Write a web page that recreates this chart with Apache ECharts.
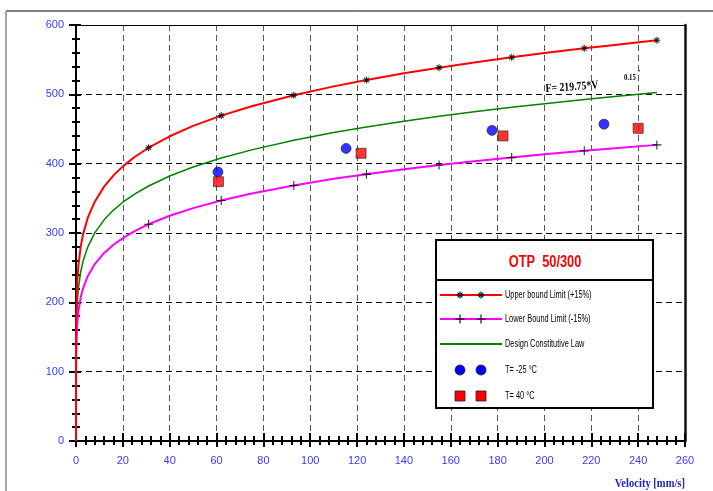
<!DOCTYPE html>
<html>
<head>
<meta charset="utf-8">
<script src="https://cdn.jsdelivr.net/npm/echarts@6/dist/echarts.min.js"></script>
<style>
html,body{margin:0;padding:0;background:#fff;}
#chart{width:713px;height:491px;}
</style>
</head>
<body>
<div id="chart"></div>
<script>
// ---- data ----
var velocity = [0, 0.0001, 0.001, 0.01, 0.1, 0.5, 1, 2, 3, 5, 8, 12, 16, 20, 25, 31, 40, 50, 62, 75, 93, 110, 124, 140, 155, 170, 186, 200, 217, 230, 248];
var designLaw = [0, 55.2, 78.0, 110.1, 155.6, 198.0, 219.8, 243.8, 259.1, 279.7, 300.2, 319.0, 333.1, 344.4, 356.2, 367.8, 382.2, 395.2, 408.1, 419.9, 433.7, 444.8, 452.8, 461.2, 468.3, 474.8, 481.2, 486.5, 492.5, 496.8, 502.5];
var upperLimit = [0, 63.5, 89.7, 126.6, 179.0, 227.7, 252.7, 280.4, 298.0, 321.7, 345.2, 366.9, 383.1, 396.1, 409.6, 423.0, 439.5, 454.5, 469.3, 482.9, 498.8, 511.5, 520.7, 530.4, 538.5, 546.0, 553.4, 559.5, 566.4, 571.3, 577.9];
var lowerLimit = [0, 46.9, 66.3, 93.6, 132.3, 168.3, 186.8, 207.2, 220.2, 237.7, 255.2, 271.2, 283.1, 292.7, 302.8, 312.6, 324.9, 335.9, 346.9, 356.9, 368.6, 378.1, 384.9, 392.0, 398.1, 403.6, 409.0, 413.5, 418.6, 422.3, 427.1];
var markerVelocity = [31, 62, 93, 124, 155, 186, 217, 248];

var coldVelocity = [60.6, 115.3, 177.6, 225.4];
var coldForce = [388, 422, 448, 457];
var hotVelocity = [60.8, 121.7, 182.3, 240.0];
var hotForce = [374, 415, 440, 451];

var xTicks = [0, 20, 40, 60, 80, 100, 120, 140, 160, 180, 200, 220, 240, 260];
var yTicks = [0, 100, 200, 300, 400, 500, 600];

var legendTitle = 'OTP  50/300';
var legendNames = ['Upper bound Limit (+15%)', 'Lower Bound Limit (-15%)', 'Design Constitutive Law', 'T= -25 \u00B0C', 'T= 40 \u00B0C'];
var formulaText = 'F= 219.75*V';
var formulaExp = '0.15';
var xAxisName = 'Velocity [mm/s]';

// ---- build series data ----
function pairs(xs, ys) { return xs.map(function (x, i) { return [x, ys[i]]; }); }
function marks(curve) {
  return markerVelocity.map(function (v) { return [v, curve[velocity.indexOf(v)]]; });
}

var asterisk = 'path://M0,5L10,5M5,0L5,10M1.6,1.6L8.4,8.4M8.4,1.6L1.6,8.4';
var cross = 'path://M0,5L10,5M5,0L5,10';

var labelColor = '#3a3aff';
var sans = '"Liberation Sans", Arial, sans-serif';
var serif = '"Liberation Serif", "Times New Roman", serif';

var chart = echarts.init(document.getElementById('chart'), null, {renderer: 'canvas'});

var xMin = xTicks[0], xMax = xTicks[xTicks.length - 1], xStep = xTicks[1] - xTicks[0];
var yMin = yTicks[0], yMax = yTicks[yTicks.length - 1], yStep = yTicks[1] - yTicks[0];

var option = {
  animation: false,
  backgroundColor: '#fff',
  grid: {left: 76, top: 25, right: 28, bottom: 50, containLabel: false},
  xAxis: [
    {
      type: 'value', min: xMin, max: xMax, interval: xStep, position: 'bottom',
      axisLine: {show: true, onZero: false, lineStyle: {color: '#000', width: 2}},
      axisTick: {show: true, inside: false, length: 6, lineStyle: {color: '#000', width: 2}},
      minorTick: {show: true, splitNumber: 5, length: 4, lineStyle: {color: '#000', width: 2}},
      axisLabel: {color: labelColor, fontFamily: sans, fontSize: 11, margin: 14},
      splitLine: {show: true, lineStyle: {color: '#555', type: [6, 4], width: 1}}
    },
    {
      type: 'value', min: xMin, max: xMax, interval: xStep, position: 'bottom',
      axisLine: {show: false, onZero: false},
      axisTick: {show: true, inside: true, length: 8, lineStyle: {color: '#000', width: 2}},
      minorTick: {show: true, splitNumber: 5, length: 5, lineStyle: {color: '#000', width: 2}},
      axisLabel: {show: false},
      splitLine: {show: false}
    },
    {
      type: 'value', min: xMin, max: xMax, position: 'top',
      axisLine: {show: true, onZero: false, lineStyle: {color: '#000', width: 1}},
      axisTick: {show: false}, axisLabel: {show: false}, splitLine: {show: false}
    }
  ],
  yAxis: [
    {
      type: 'value', min: yMin, max: yMax, interval: yStep, position: 'left',
      axisLine: {show: true, onZero: false, lineStyle: {color: '#000', width: 2}},
      axisTick: {show: true, inside: false, length: 7, lineStyle: {color: '#000', width: 2}},
      minorTick: {show: true, splitNumber: 5, length: 4, lineStyle: {color: '#000', width: 2}},
      axisLabel: {color: labelColor, fontFamily: sans, fontSize: 11, margin: 12},
      splitLine: {show: true, lineStyle: {color: '#000', type: [6, 4], width: 1}}
    },
    {
      type: 'value', min: yMin, max: yMax, interval: yStep, position: 'left',
      axisLine: {show: false, onZero: false},
      axisTick: {show: true, inside: true, length: 5, lineStyle: {color: '#000', width: 2}},
      minorTick: {show: true, splitNumber: 5, length: 4, lineStyle: {color: '#000', width: 2}},
      axisLabel: {show: false},
      splitLine: {show: false}
    },
    {
      type: 'value', min: yMin, max: yMax, position: 'right',
      axisLine: {show: true, onZero: false, lineStyle: {color: '#111', width: 2.5}},
      axisTick: {show: false}, axisLabel: {show: false}, splitLine: {show: false}
    }
  ],
  series: [
    {
      name: legendNames[2], type: 'line', data: pairs(velocity, designLaw),
      showSymbol: false, lineStyle: {color: '#008000', width: 1.5}, z: 3
    },
    {
      name: legendNames[1], type: 'line', data: pairs(velocity, lowerLimit),
      showSymbol: false, lineStyle: {color: '#ff00ff', width: 2}, z: 3
    },
    {
      name: legendNames[0], type: 'line', data: pairs(velocity, upperLimit),
      showSymbol: false, lineStyle: {color: '#ff0000', width: 2}, z: 4
    },
    {
      name: legendNames[0] + ' markers', type: 'scatter', data: marks(upperLimit),
      symbol: asterisk, symbolSize: 7,
      itemStyle: {color: 'rgba(0,0,0,0)', borderColor: '#000', borderWidth: 1.1}, z: 5
    },
    {
      name: legendNames[1] + ' markers', type: 'scatter', data: marks(lowerLimit),
      symbol: cross, symbolSize: 9,
      itemStyle: {color: 'rgba(0,0,0,0)', borderColor: '#000', borderWidth: 1.1}, z: 5
    },
    {
      name: legendNames[3], type: 'scatter', data: pairs(coldVelocity, coldForce),
      symbol: 'circle', symbolSize: 10,
      itemStyle: {color: '#0000ff', borderColor: '#222', borderWidth: 0.8}, z: 6
    },
    {
      name: legendNames[4], type: 'scatter', data: pairs(hotVelocity, hotForce),
      symbol: 'rect', symbolSize: 10,
      itemStyle: {color: '#ff0000', borderColor: '#222', borderWidth: 0.8}, z: 6
    }
  ],
  graphic: []
};

// outer frame
var g = option.graphic;
g.push({type: 'line', shape: {x1: 6, y1: 11, x2: 713, y2: 11}, style: {stroke: '#000', lineWidth: 1}, z: 1});
g.push({type: 'line', shape: {x1: 6, y1: 11, x2: 6, y2: 491}, style: {stroke: '#888', lineWidth: 1.5}, z: 1});

// axis name
g.push({type: 'text', x: 685, y: 484, scaleX: 0.88, style: {text: xAxisName, fill: '#2323c8', font: 'bold 12px ' + serif, align: 'right', verticalAlign: 'middle'}, z: 10});

// formula annotation
g.push({type: 'text', x: 545, y: 83, rotation: 0.07, scaleX: 0.82, style: {text: formulaText, fill: '#000', font: 'bold 12px ' + serif}, z: 10});
g.push({type: 'text', x: 624, y: 74, scaleX: 0.85, style: {text: formulaExp, fill: '#000', font: 'bold 8px ' + serif}, z: 10});
g.push({type: 'text', x: 638, y: 70, style: {text: "'", fill: '#000', font: 'bold 8px ' + serif}, z: 10});

// legend box
var LX = 436, LY = 240, LW = 217, LH = 168;
g.push({type: 'rect', shape: {x: LX, y: LY, width: LW, height: LH}, style: {fill: '#fff', stroke: '#000', lineWidth: 2}, z: 20});
g.push({type: 'line', shape: {x1: LX, y1: 280, x2: LX + LW, y2: 280}, style: {stroke: '#000', lineWidth: 2}, z: 21});
g.push({type: 'text', x: 545, y: 263, scaleX: 0.8, style: {text: legendTitle, fill: '#ff0000', font: 'bold 16px ' + sans, align: 'center', verticalAlign: 'middle'}, z: 21});

var rowY = [295, 319, 344, 370, 396];
var lineColors = ['#ff0000', '#ff00ff', '#008000'];
function asteriskLines(cx, cy, r) {
  var d = r * 0.7;
  return [
    {type: 'line', shape: {x1: cx - r, y1: cy, x2: cx + r, y2: cy}, style: {stroke: '#000', lineWidth: 1.1}, z: 22},
    {type: 'line', shape: {x1: cx, y1: cy - r, x2: cx, y2: cy + r}, style: {stroke: '#000', lineWidth: 1.1}, z: 22},
    {type: 'line', shape: {x1: cx - d, y1: cy - d, x2: cx + d, y2: cy + d}, style: {stroke: '#000', lineWidth: 1.1}, z: 22},
    {type: 'line', shape: {x1: cx + d, y1: cy - d, x2: cx - d, y2: cy + d}, style: {stroke: '#000', lineWidth: 1.1}, z: 22}
  ];
}
function crossLines(cx, cy, r) {
  return [
    {type: 'line', shape: {x1: cx - r, y1: cy, x2: cx + r, y2: cy}, style: {stroke: '#000', lineWidth: 1.1}, z: 22},
    {type: 'line', shape: {x1: cx, y1: cy - r, x2: cx, y2: cy + r}, style: {stroke: '#000', lineWidth: 1.1}, z: 22}
  ];
}
for (var i = 0; i < 3; i++) {
  g.push({type: 'line', shape: {x1: 440, y1: rowY[i], x2: 502, y2: rowY[i]}, style: {stroke: lineColors[i], lineWidth: 2}, z: 21});
}
[460, 481].forEach(function (cx) {
  asteriskLines(cx, rowY[0], 3.5).forEach(function (e) { g.push(e); });
  crossLines(cx, rowY[1], 4.5).forEach(function (e) { g.push(e); });
  g.push({type: 'circle', shape: {cx: cx, cy: rowY[3], r: 5}, style: {fill: '#0000ff', stroke: '#222', lineWidth: 0.8}, z: 22});
  g.push({type: 'rect', shape: {x: cx - 5, y: rowY[4] - 5, width: 10, height: 10}, style: {fill: '#ff0000', stroke: '#222', lineWidth: 0.8}, z: 22});
});
for (var j = 0; j < legendNames.length; j++) {
  g.push({type: 'text', x: 505, y: rowY[j], scaleX: 0.74, style: {text: legendNames[j], fill: '#000', font: '10px ' + sans, verticalAlign: 'middle'}, z: 22});
}

chart.setOption(option);
</script>
</body>
</html>
